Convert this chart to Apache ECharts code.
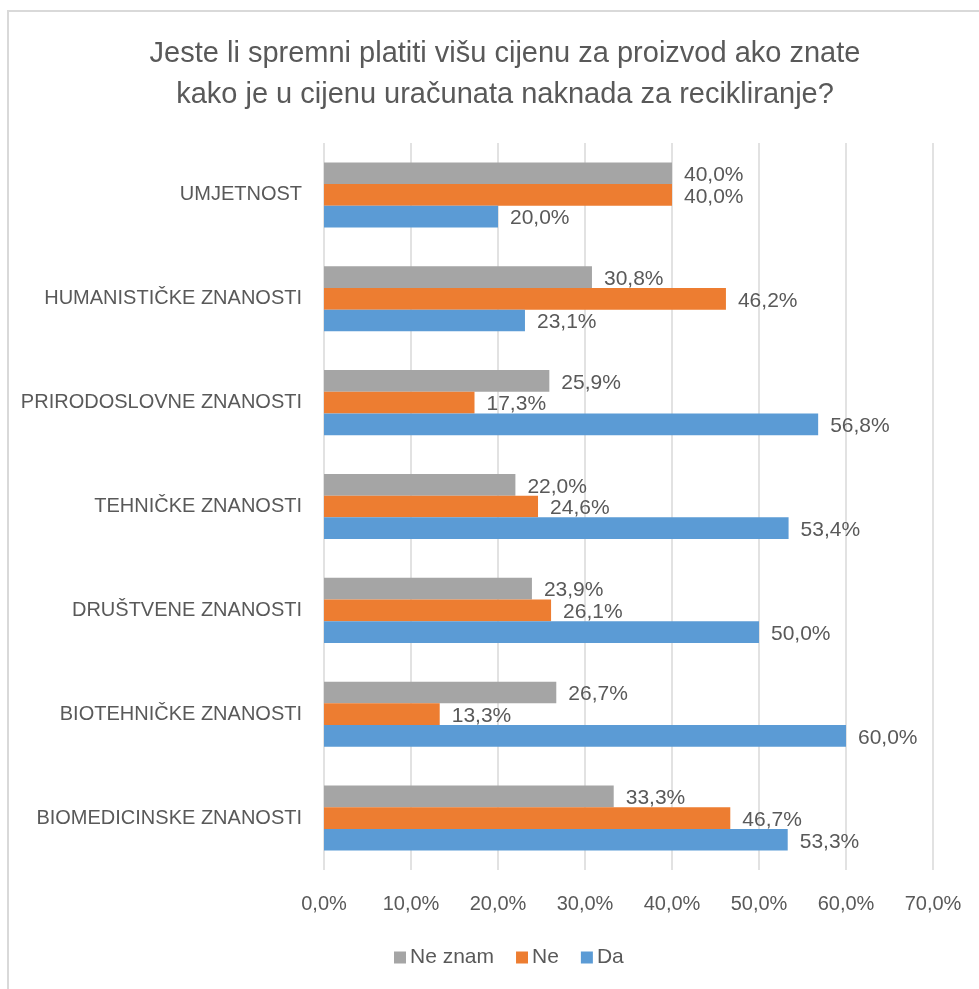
<!DOCTYPE html>
<html><head><meta charset="utf-8">
<script src="https://cdn.jsdelivr.net/npm/echarts@6/dist/echarts.min.js"></script>
<style>html,body{margin:0;padding:0;background:#fff}#c{width:979px;height:989px}</style>
</head><body><div id="c"></div>
<script>
const categories = ['BIOMEDICINSKE ZNANOSTI','BIOTEHNIČKE ZNANOSTI','DRUŠTVENE ZNANOSTI','TEHNIČKE ZNANOSTI','PRIRODOSLOVNE ZNANOSTI','HUMANISTIČKE ZNANOSTI','UMJETNOST'];
const da = [53.3, 60.0, 50.0, 53.4, 56.8, 23.1, 20.0];
const ne = [46.7, 13.3, 26.1, 24.6, 17.3, 46.2, 40.0];
const neZnam = [33.3, 26.7, 23.9, 22.0, 25.9, 30.8, 40.0];
const titleText = 'Jeste li spremni platiti višu cijenu za proizvod ako znate\nkako je u cijenu uračunata naknada za recikliranje?';

const FONT = '"Liberation Sans", Arial, sans-serif';
const TXT = '#595959';
const fmt = v => v.toFixed(1).replace('.', ',') + '%';

function mk(name, data, color) {
  return {
    name, type: 'bar', data, barWidth: 21.7, barGap: '0%',
    itemStyle: { color },
    label: { show: true, position: 'right', distance: 12, color: TXT, fontFamily: FONT, fontSize: 21,
      offset: [0, 2], formatter: p => fmt(p.value) },
    emphasis: { disabled: true }
  };
}

const chart = echarts.init(document.getElementById('c'), null, { renderer: 'canvas' });
chart.setOption({
  animation: false,
  backgroundColor: '#fff',
  graphic: [{ type: 'rect', shape: { x: 8, y: 11, width: 1000, height: 1000 }, style: { fill: 'none', stroke: '#d9d9d9', lineWidth: 2 }, silent: true }],
  title: { text: titleText, left: 500, textAlign: 'center', top: 28, textStyle: { color: TXT, fontFamily: FONT, fontSize: 29, fontWeight: 'normal', lineHeight: 41 } },
  legend: {
    data: ['Ne znam', 'Ne', 'Da'], bottom: 16, left: 389, itemWidth: 12, itemHeight: 12, itemGap: 22,
    icon: 'rect', textStyle: { color: TXT, fontFamily: FONT, fontSize: 21, padding: [0, 0, 0, -1] }
  },
  grid: { left: 324, right: 46, top: 143, bottom: 119, containLabel: false },
  xAxis: {
    type: 'value', min: 0, max: 70, interval: 10,
    axisLine: { show: false }, axisTick: { show: false },
    splitLine: { lineStyle: { color: '#d9d9d9', width: 1.5 } },
    axisLabel: { color: TXT, fontFamily: FONT, fontSize: 20, margin: 24, formatter: v => fmt(v) }
  },
  yAxis: {
    type: 'category', data: categories,
    axisLine: { show: false }, axisTick: { show: false },
    axisLabel: { color: TXT, fontFamily: FONT, fontSize: 20, margin: 22 }
  },
  series: [mk('Ne znam', neZnam, '#A5A5A5'), mk('Ne', ne, '#ED7D31'), mk('Da', da, '#5B9BD5')]
});
</script></body></html>
